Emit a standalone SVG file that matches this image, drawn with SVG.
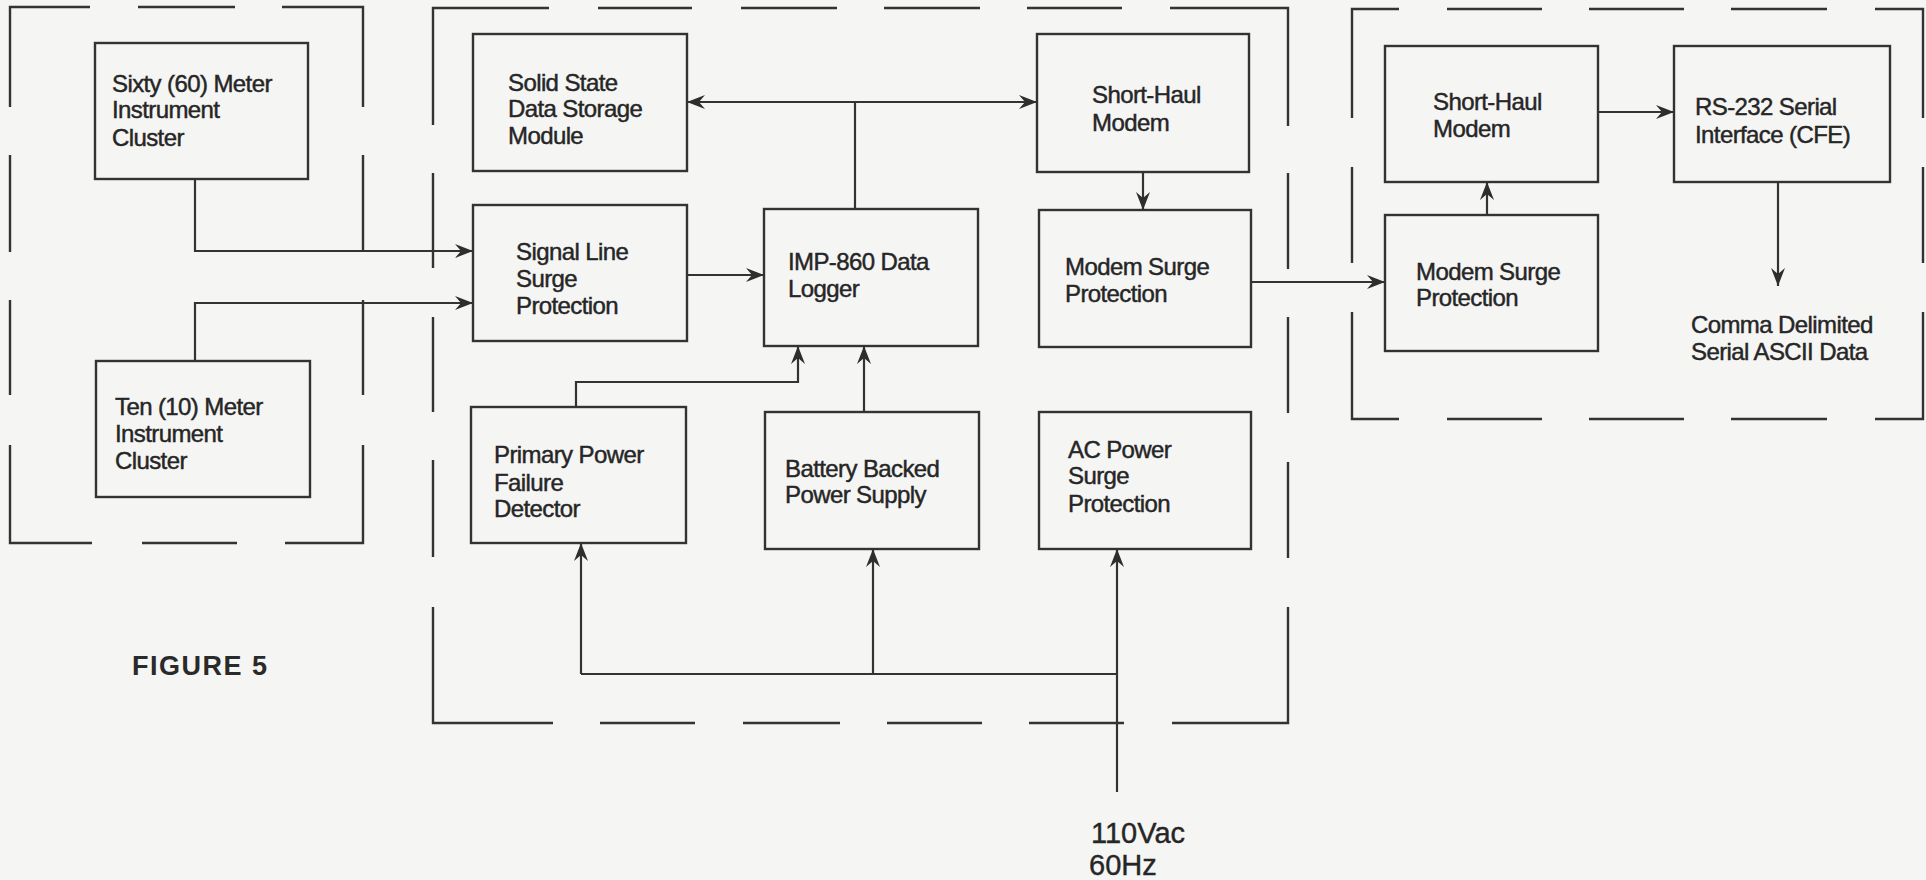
<svg xmlns="http://www.w3.org/2000/svg" width="1926" height="880" viewBox="0 0 1926 880">
<style>
.bg{fill:#f5f5f4}
.box{fill:none;stroke:#333;stroke-width:2.4}
.enc{fill:none;stroke:#333;stroke-width:2.4}
.ln{fill:none;stroke:#333;stroke-width:2.2}
.arr{marker-end:url(#ah)}
.t{font-family:"Liberation Sans",Arial,sans-serif;font-size:24px;letter-spacing:-0.6px;fill:#262626;stroke:#262626;stroke-width:0.45px}
.big{font-family:"Liberation Sans",Arial,sans-serif;font-size:29px;fill:#262626;stroke:#262626;stroke-width:0.4px}
.fig{font-family:"Liberation Sans",Arial,sans-serif;font-size:27px;font-weight:bold;letter-spacing:1.5px;fill:#2a2a2a}
</style>
<defs>
<marker id="ah" viewBox="0 0 18 14" refX="18" refY="7" markerWidth="18" markerHeight="14" markerUnits="userSpaceOnUse" orient="auto-start-reverse">
<path d="M0,0 L18,7 L0,14 L6,7 Z" fill="#2e2e2e"/>
</marker>
</defs>
<rect class="bg" x="0" y="0" width="1926" height="880"/>

<g id="enclosures">
<path class="enc" d="M10,107 V7 H90 M138,7 H235 M282,7 H363 V107 M363,155 V252 M363,300 V395 M363,445 V543 H285 M237,543 H142 M92,543 H10 V445 M10,395 V300 M10,252 V155"/>
<path class="enc" d="M433,125 V8 H549 M598,8 H692 M741,8 H837 M884,8 H980 M1027,8 H1122 M1170,8 H1288 V126 M1288,173 V269 M1288,317 V413 M1288,462 V558 M1288,607 V723 H1172 M1124,723 H1029 M982,723 H887 M840,723 H743 M695,723 H600 M553,723 H433 V607 M433,557 V460 M433,412 V317 M433,268 V173"/>
<path class="enc" d="M1352,118 V9 H1399 M1447,9 H1542 M1589,9 H1684 M1731,9 H1827 M1875,9 H1923 V118 M1923,167 V263 M1923,312 V419 H1875 M1827,419 H1731 M1684,419 H1589 M1542,419 H1447 M1399,419 H1352 V312 M1352,263 V167"/>
</g>

<g id="connectors">
<polyline class="ln arr" points="195,179 195,251 473,251"/>
<polyline class="ln arr" points="195,361 195,303 473,303"/>
<line class="ln arr" x1="687" y1="275" x2="764" y2="275"/>
<line class="ln" x1="687" y1="102" x2="1037" y2="102" marker-start="url(#ah)" marker-end="url(#ah)"/>
<line class="ln" x1="855" y1="102" x2="855" y2="209"/>
<polyline class="ln arr" points="576,407 576,382 798,382 798,346"/>
<line class="ln arr" x1="864" y1="412" x2="864" y2="346"/>
<line class="ln arr" x1="1117" y1="792" x2="1117" y2="549"/>
<line class="ln" x1="581" y1="674" x2="1117" y2="674"/>
<line class="ln arr" x1="581" y1="674" x2="581" y2="543"/>
<line class="ln arr" x1="873" y1="674" x2="873" y2="549"/>
<line class="ln arr" x1="1143" y1="172" x2="1143" y2="210"/>
<line class="ln arr" x1="1251" y1="282" x2="1385" y2="282"/>
<line class="ln arr" x1="1487" y1="215" x2="1487" y2="182"/>
<line class="ln arr" x1="1598" y1="112" x2="1674" y2="112"/>
<line class="ln arr" x1="1778" y1="182" x2="1778" y2="286"/>
</g>

<g id="sixty">
<rect class="box" x="95" y="43" width="213" height="136"/>
<text class="t" x="112" y="92">Sixty (60) Meter</text>
<text class="t" x="112" y="118">Instrument</text>
<text class="t" x="112" y="146">Cluster</text>
</g>
<g id="ten">
<rect class="box" x="96" y="361" width="214" height="136"/>
<text class="t" x="115" y="415">Ten (10) Meter</text>
<text class="t" x="115" y="442">Instrument</text>
<text class="t" x="115" y="469">Cluster</text>
</g>
<g id="solid-state">
<rect class="box" x="473" y="34" width="214" height="137"/>
<text class="t" x="508" y="91">Solid State</text>
<text class="t" x="508" y="117">Data Storage</text>
<text class="t" x="508" y="144">Module</text>
</g>
<g id="signal-line">
<rect class="box" x="473" y="205" width="214" height="136"/>
<text class="t" x="516" y="260">Signal Line</text>
<text class="t" x="516" y="287">Surge</text>
<text class="t" x="516" y="314">Protection</text>
</g>
<g id="imp860">
<rect class="box" x="764" y="209" width="214" height="137"/>
<text class="t" x="788" y="270">IMP-860 Data</text>
<text class="t" x="788" y="297">Logger</text>
</g>
<g id="primary-power">
<rect class="box" x="471" y="407" width="215" height="136"/>
<text class="t" x="494" y="463">Primary Power</text>
<text class="t" x="494" y="491">Failure</text>
<text class="t" x="494" y="517">Detector</text>
</g>
<g id="battery">
<rect class="box" x="765" y="412" width="214" height="137"/>
<text class="t" x="785" y="477">Battery Backed</text>
<text class="t" x="785" y="503">Power Supply</text>
</g>
<g id="short-haul-1">
<rect class="box" x="1037" y="34" width="212" height="138"/>
<text class="t" x="1092" y="103">Short-Haul</text>
<text class="t" x="1092" y="131">Modem</text>
</g>
<g id="modem-surge-1">
<rect class="box" x="1039" y="210" width="212" height="137"/>
<text class="t" x="1065" y="275">Modem Surge</text>
<text class="t" x="1065" y="302">Protection</text>
</g>
<g id="ac-power">
<rect class="box" x="1039" y="412" width="212" height="137"/>
<text class="t" x="1068" y="458">AC Power</text>
<text class="t" x="1068" y="484">Surge</text>
<text class="t" x="1068" y="512">Protection</text>
</g>
<g id="short-haul-2">
<rect class="box" x="1385" y="46" width="213" height="136"/>
<text class="t" x="1433" y="110">Short-Haul</text>
<text class="t" x="1433" y="137">Modem</text>
</g>
<g id="modem-surge-2">
<rect class="box" x="1385" y="215" width="213" height="136"/>
<text class="t" x="1416" y="280">Modem Surge</text>
<text class="t" x="1416" y="306">Protection</text>
</g>
<g id="rs232">
<rect class="box" x="1674" y="46" width="216" height="136"/>
<text class="t" x="1695" y="115">RS-232 Serial</text>
<text class="t" x="1695" y="143">Interface (CFE)</text>
</g>
<g id="ascii-output">
<text class="t" x="1691" y="333">Comma Delimited</text>
<text class="t" x="1691" y="360">Serial ASCII Data</text>
</g>
<g id="ac-input">
<text class="big" x="1091" y="843">110Vac</text>
<text class="big" x="1089" y="875">60Hz</text>
</g>
<g id="caption">
<text class="fig" x="132" y="675">FIGURE 5</text>
</g>
</svg>
